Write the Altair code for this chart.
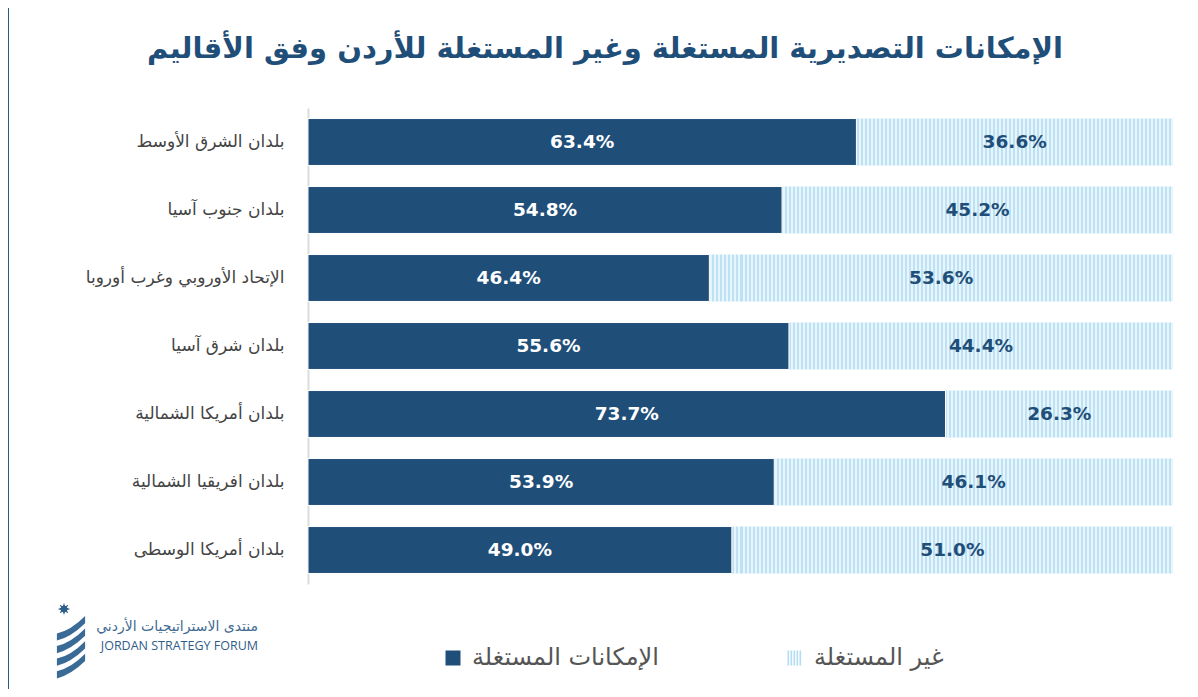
import math
import altair as alt
import pandas as pd

# ---------------- data ----------------
regions = [
    "بلدان الشرق الأوسط",
    "بلدان جنوب آسيا",
    "الإتحاد الأوروبي وغرب أوروبا",
    "بلدان شرق آسيا",
    "بلدان أمريكا الشمالية",
    "بلدان افريقيا الشمالية",
    "بلدان أمريكا الوسطى",
]
used = [63.4, 54.8, 46.4, 55.6, 73.7, 53.9, 49.0]
unused = [36.6, 45.2, 53.6, 44.4, 26.3, 46.1, 51.0]
series_names = ["الإمكانات المستغلة", "غير المستغلة"]
title_text = "الإمكانات التصديرية المستغلة وغير المستغلة للأردن وفق الأقاليم"
logo_ar = "منتدى الاستراتيجيات الأردني"
logo_en = "JORDAN STRATEGY FORUM"

DARK = "#1f4e79"
STRIPE_A = "#bde2f4"
STRIPE_B = "#e8f5fc"
FONT = "DejaVu Sans"

df = pd.DataFrame({"region": regions, "used": used, "unused": unused})
df["total"] = 100.0
legend_df = pd.DataFrame({"series": series_names})
one = pd.DataFrame({"k": [0]})

# stripe gradient (vertical stripes)
n = 216
stops = []
for i in range(n):
    a, b, c = i / n, (i + 0.5) / n, (i + 1) / n
    stops += [
        alt.GradientStop(offset=a, color=STRIPE_A),
        alt.GradientStop(offset=b, color=STRIPE_A),
        alt.GradientStop(offset=b, color=STRIPE_B),
        alt.GradientStop(offset=c, color=STRIPE_B),
    ]
stripe_grad = alt.Gradient(gradient="linear", stops=stops, x1=0, x2=1, y1=0, y2=0)

# legend stripe symbol path
stripe_path = " ".join(
    f"M{-1 + j * 0.4:.2f},-1H{-1 + j * 0.4 + 0.22:.2f}V1H{-1 + j * 0.4:.2f}Z" for j in range(5)
)

# logo shapes
ribbons = []
for k in range(4):
    o = -0.8 + k * 0.42
    ribbons.append(
        f"M-0.47,{o + 0.38:.2f}Q0,{o + 0.28:.2f} 0.47,{o - 0.2:.2f}"
        f"L0.47,{o + 0.04:.2f}Q0,{o + 0.5:.2f} -0.47,{o + 0.62:.2f}Z"
    )
emblem_path = " ".join(ribbons)
pts = []
for i in range(16):
    r = 1.0 if i % 2 == 0 else 0.5
    ang = math.pi * i / 8 - math.pi / 2
    pts.append(f"{r * math.cos(ang):.3f},{r * math.sin(ang):.3f}")
star_path = "M" + "L".join(pts) + "Z"

y_enc = alt.Y(
    "region:N",
    sort=regions,
    scale=alt.Scale(paddingInner=0.31, paddingOuter=0.155),
    axis=alt.Axis(
        title=None,
        ticks=False,
        domainColor="#dcdcdc",
        domainWidth=2,
        labelFont=FONT,
        labelFontSize=17,
        labelColor="#444444",
        labelPadding=24,
        labelLimit=300,
    ),
)
x_scale = alt.Scale(domain=[0, 100], nice=False)

base = alt.Chart(df)

legend_layer = alt.Chart(legend_df).mark_point(filled=True, opacity=1, size=225).encode(
    x=alt.value(20),
    y=alt.value(30),
    color=alt.Color(
        "series:N",
        scale=alt.Scale(domain=series_names, range=[DARK, "#b3ddf2"]),
        legend=alt.Legend(
            title=None,
            orient="none",
            direction="horizontal",
            legendX=133,
            legendY=538,
            symbolSize=225,
            symbolOpacity=1,
            symbolStrokeWidth=0,
            labelFont=FONT,
            labelFontSize=24,
            labelColor="#555555",
            labelOffset=7,
            columnPadding=124,
            labelLimit=400,
        ),
    ),
    shape=alt.Shape(
        "series:N",
        scale=alt.Scale(domain=series_names, range=["square", stripe_path]),
        legend=alt.Legend(title=None, orient="none", direction="horizontal", legendX=133, legendY=538),
    ),
)

bg = base.mark_bar(color=stripe_grad).encode(
    y=y_enc,
    x=alt.X("total:Q", scale=x_scale, axis=None),
)

dark = base.mark_bar(color=DARK, stroke="white", strokeWidth=1).encode(
    y=alt.Y("region:N", sort=regions),
    x=alt.X("used:Q", scale=x_scale),
)

lab_used = base.transform_calculate(
    mid="datum.used / 2", lab="format(datum.used, '.1f') + '%'"
).mark_text(font=FONT, fontSize=18.5, fontWeight="bold", color="white").encode(
    y=alt.Y("region:N", sort=regions),
    x=alt.X("mid:Q", scale=x_scale),
    text="lab:N",
)

lab_unused = base.transform_calculate(
    mid="datum.used + datum.unused / 2", lab="format(datum.unused, '.1f') + '%'"
).mark_text(font=FONT, fontSize=18.5, fontWeight="bold", color=DARK).encode(
    y=alt.Y("region:N", sort=regions),
    x=alt.X("mid:Q", scale=x_scale),
    text="lab:N",
)

title = alt.Chart(one).mark_text(
    text=title_text, font=FONT, fontSize=29, fontWeight="bold", color=DARK, baseline="middle"
).encode(x=alt.value(297), y=alt.value(-59))

frame_left = alt.Chart(one).mark_rule(color="#2c5a85", strokeWidth=2).encode(
    x=alt.value(-300), y=alt.value(-104), y2=alt.value(600)
)
frame_top = alt.Chart(one).mark_rule(color="#3a6690", strokeWidth=2).encode(
    x=alt.value(-302), x2=alt.value(900), y=alt.value(-104)
)

logo_t1 = alt.Chart(one).mark_text(
    text=logo_ar, font=FONT, fontSize=14, color="#3f6a92", align="right", baseline="middle"
).encode(x=alt.value(-50), y=alt.value(519))
logo_t2 = alt.Chart(one).mark_text(
    text=logo_en, font="Open Sans", fontSize=12.5, color="#2f5d8a", align="right", baseline="middle"
).encode(x=alt.value(-50), y=alt.value(538))
logo_star = alt.Chart(one).mark_point(shape=star_path, filled=True, color="#2f5d8a", size=150, opacity=1).encode(
    x=alt.value(-244), y=alt.value(501)
)
logo_emblem = alt.Chart(one).mark_point(shape=emblem_path, filled=True, color="#3a6a96", size=3600, opacity=1).encode(
    x=alt.value(-237), y=alt.value(538)
)

chart = alt.layer(
    legend_layer, bg, dark, lab_used, lab_unused, title,
    frame_left, frame_top, logo_t1, logo_t2, logo_star, logo_emblem,
).properties(
    width=865,
    height=476,
    padding={"left": 300, "top": 100, "right": 17, "bottom": 105},
    autosize="none",
    background="white",
).configure_view(stroke=None)

chart.save("out.html", embed_options={"renderer": "svg", "actions": False})
